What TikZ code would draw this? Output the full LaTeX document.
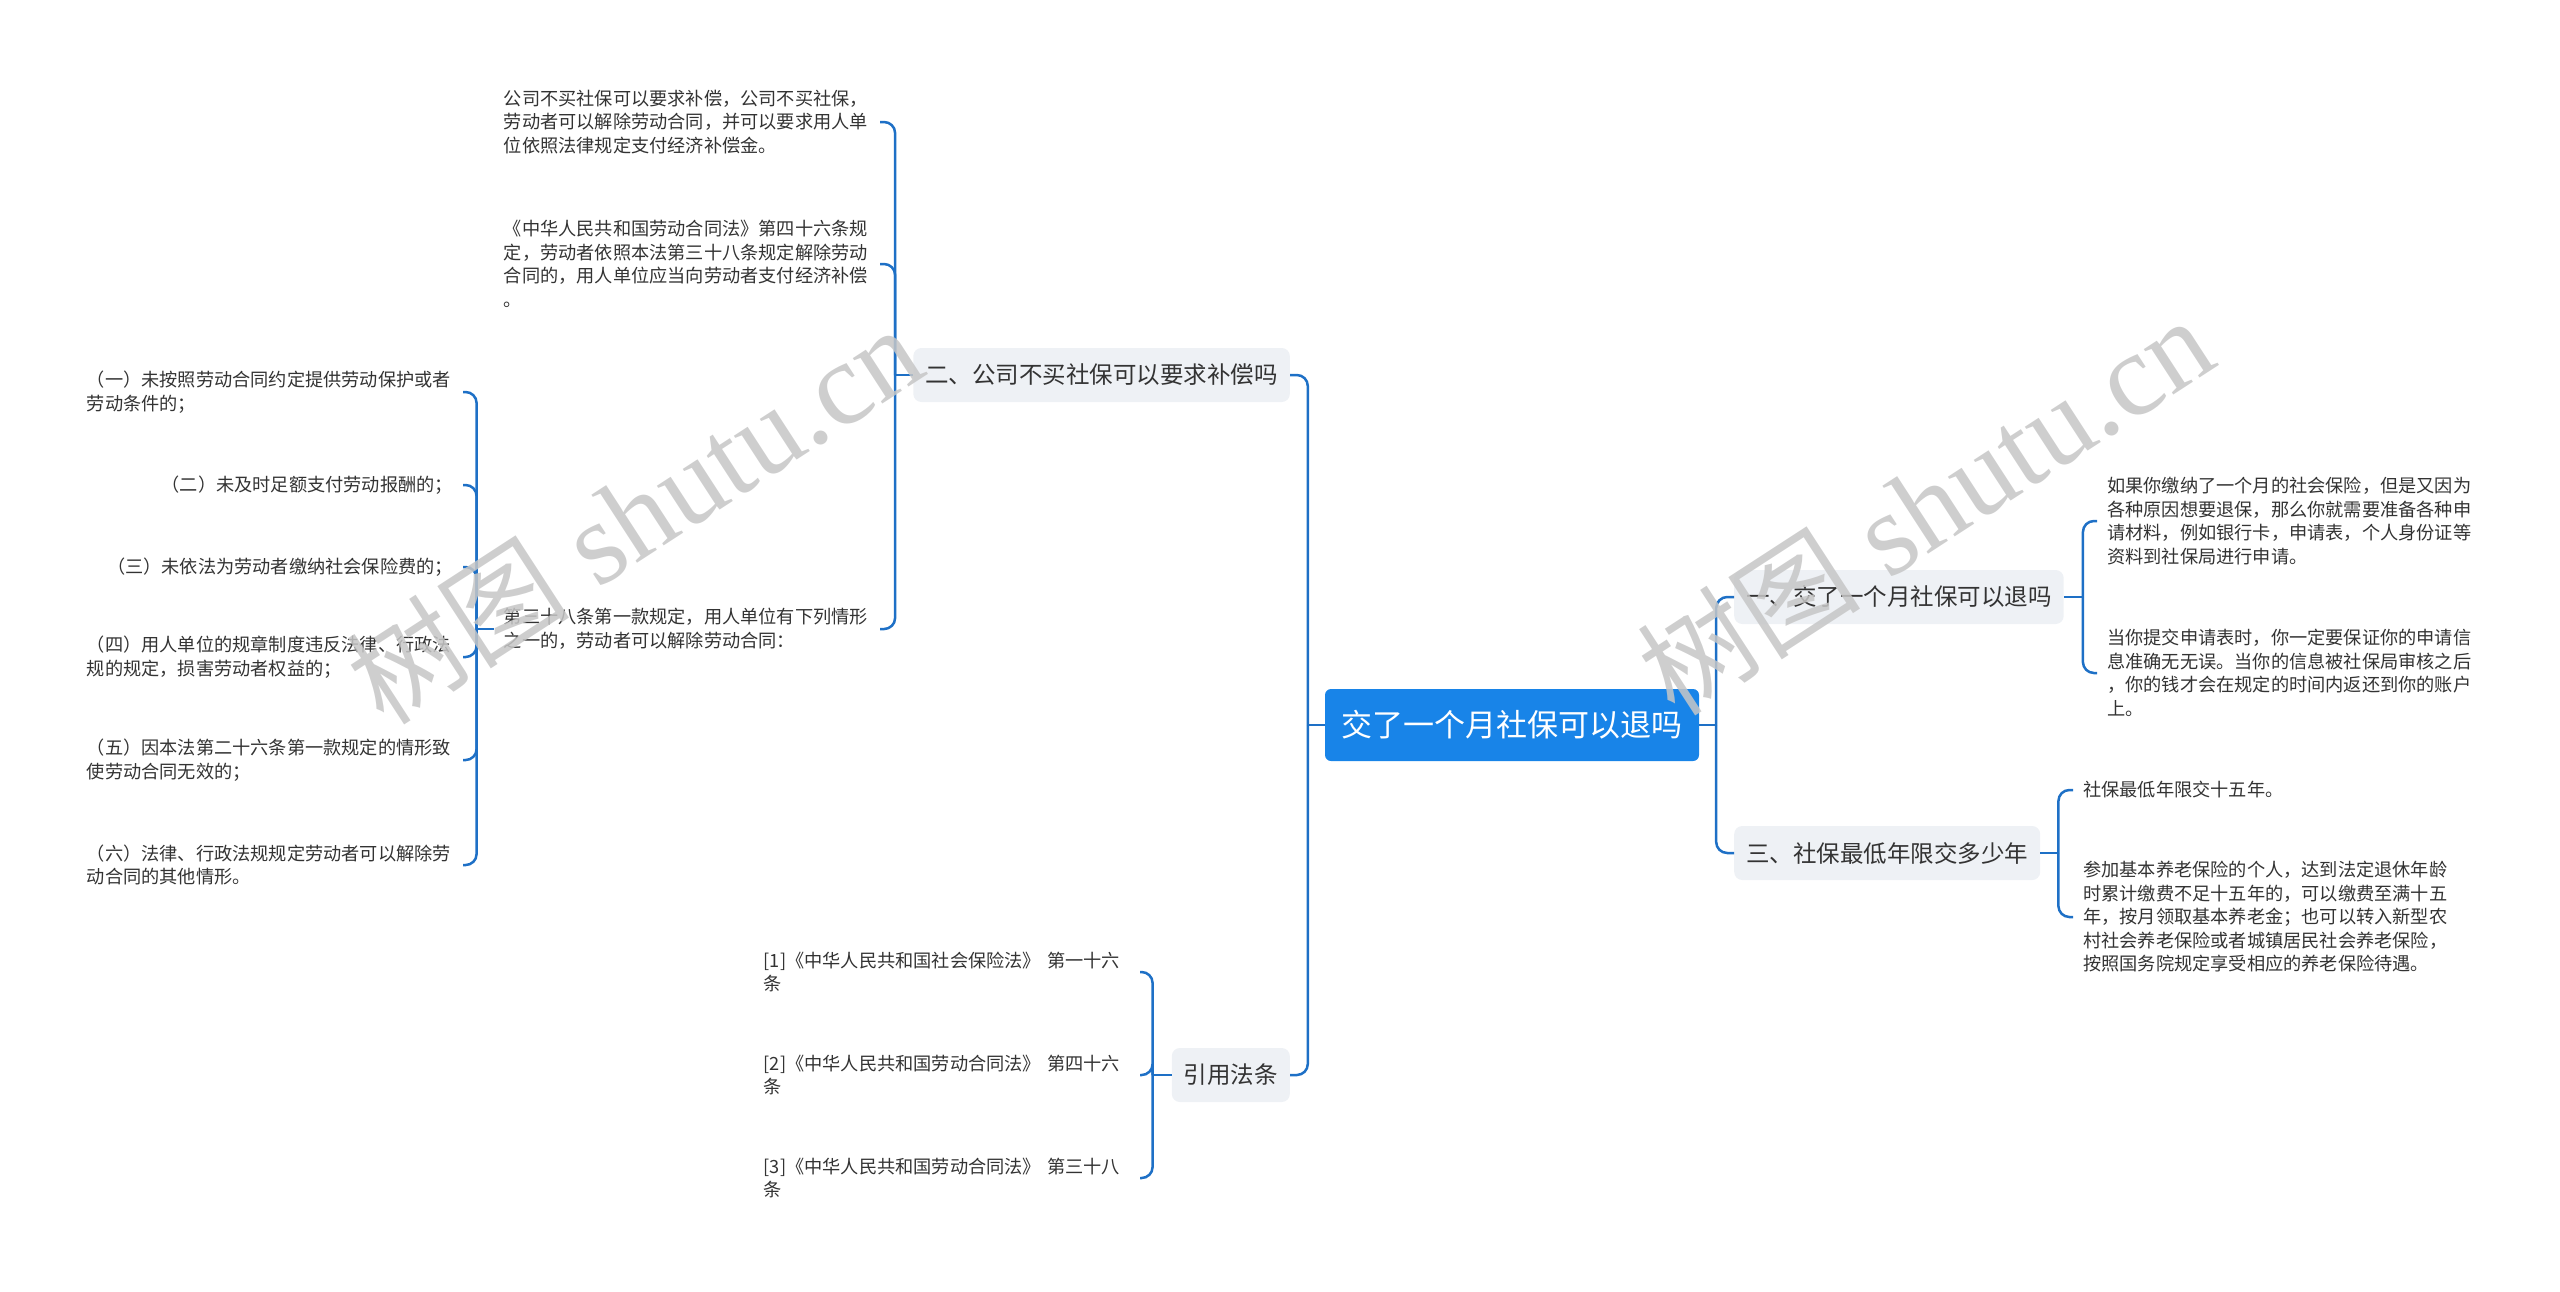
\documentclass[tikz,border=0pt]{standalone}
\usepackage{fontspec}
\setmainfont{Noto Sans CJK SC}
\newfontfamily\wmserif{Liberation Serif}
\newfontfamily\cjk{Noto Sans CJK SC}
\usetikzlibrary{calc}
\definecolor{lineblue}{RGB}{30,112,198}
\definecolor{rootblue}{RGB}{24,132,232}
\definecolor{boxgray}{RGB}{238,241,245}
\definecolor{txt}{RGB}{51,51,51}
\definecolor{wm}{RGB}{198,198,198}
\begin{document}
\begin{tikzpicture}[x=1pt,y=-1pt,
  conn/.style={draw=lineblue, line width=2.5pt, rounded corners=11pt},
  rootbox/.style={fill=rootblue, rounded corners=6pt, text=white, font=\fontsize{31}{36}\selectfont, inner xsep=16.5pt, inner ysep=0pt, minimum height=72pt},
  topic/.style={fill=boxgray, rounded corners=8pt, text=txt, font=\fontsize{23.5}{28}\selectfont, inner xsep=12pt, inner ysep=0pt, minimum height=54pt},
  leaf/.style={text=txt, font=\fontsize{18.2}{23.5}\selectfont, inner xsep=10pt, inner ysep=2pt, align=left},
  wide/.style={text width=366pt},
  wmark/.style={text=wm, text opacity=0.85, rotate=33, inner sep=0pt}
]
\useasboundingbox (0,0) rectangle (2560,1291);

% root and topics
\node[rootbox] (root) at (1512,725) {交了一个月社保可以退吗};
\node[topic, anchor=east] (n2) at (1290,375) {二、公司不买社保可以要求补偿吗};
\node[topic, anchor=east] (n4) at (1290,1075) {引用法条};
\node[topic, anchor=west] (n1) at (1734,597) {一、交了一个月社保可以退吗};
\node[topic, anchor=west] (n3) at (1734,853) {三、社保最低年限交多少年};

% children of n2
\node[leaf, wide, anchor=east] (c21) at (880,122) {公司不买社保可以要求补偿，公司不买社保，\\劳动者可以解除劳动合同，并可以要求用人单\\位依照法律规定支付经济补偿金。};
\node[leaf, wide, anchor=east] (c22) at (880,264) {《中华人民共和国劳动合同法》第四十六条规\\定，劳动者依照本法第三十八条规定解除劳动\\合同的，用人单位应当向劳动者支付经济补偿\\。};
\node[leaf, wide, anchor=east] (c23) at (880,629) {第三十八条第一款规定，用人单位有下列情形\\之一的，劳动者可以解除劳动合同：};

% children of c23
\node[leaf, wide, anchor=east] (d1) at (463,392) {（一）未按照劳动合同约定提供劳动保护或者\\劳动条件的；};
\node[leaf, anchor=east] (d2) at (463,485) {（二）未及时足额支付劳动报酬的；};
\node[leaf, anchor=east] (d3) at (463,567) {（三）未依法为劳动者缴纳社会保险费的；};
\node[leaf, wide, anchor=east] (d4) at (463,657) {（四）用人单位的规章制度违反法律、行政法\\规的规定，损害劳动者权益的；};
\node[leaf, wide, anchor=east] (d5) at (463,760) {（五）因本法第二十六条第一款规定的情形致\\使劳动合同无效的；};
\node[leaf, wide, anchor=east] (d6) at (463,865) {（六）法律、行政法规规定劳动者可以解除劳\\动合同的其他情形。};

% children of n4
\node[leaf, wide, anchor=east] (c41) at (1140,972) {[1]《中华人民共和国社会保险法》 第一十六\\条};
\node[leaf, wide, anchor=east] (c42) at (1140,1075) {[2]《中华人民共和国劳动合同法》 第四十六\\条};
\node[leaf, wide, anchor=east] (c43) at (1140,1178) {[3]《中华人民共和国劳动合同法》 第三十八\\条};

% children of n1
\node[leaf, wide, anchor=west] (r11) at (2097,521) {如果你缴纳了一个月的社会保险，但是又因为\\各种原因想要退保，那么你就需要准备各种申\\请材料，例如银行卡，申请表，个人身份证等\\资料到社保局进行申请。};
\node[leaf, wide, anchor=west] (r12) at (2097,673) {当你提交申请表时，你一定要保证你的申请信\\息准确无无误。当你的信息被社保局审核之后\\，你的钱才会在规定的时间内返还到你的账户\\上。};

% children of n3
\node[leaf, anchor=west] (r31) at (2073,790) {社保最低年限交十五年。};
\node[leaf, wide, anchor=west] (r32) at (2073,917) {参加基本养老保险的个人，达到法定退休年龄\\时累计缴费不足十五年的，可以缴费至满十五\\年，按月领取基本养老金；也可以转入新型农\\村社会养老保险或者城镇居民社会养老保险，\\按照国务院规定享受相应的养老保险待遇。};

% bus coordinates
\coordinate (bL) at ($(root.west)+(-17,0)$);
\coordinate (bR) at ($(root.east)+(17,0)$);
\coordinate (b2) at ($(n2.west)+(-18,0)$);
\coordinate (b23) at ($(c23.west)+(-17,0)$);
\coordinate (b4) at ($(n4.west)+(-19,0)$);
\coordinate (b1) at ($(n1.east)+(19,0)$);
\coordinate (b3) at ($(n3.east)+(18,0)$);

% connectors
\draw[conn] (root.west) -- (bL);
\draw[conn] (root.east) -- (bR);
\draw[conn] (bL) |- (n2.east);
\draw[conn] (bL) |- (n4.east);
\draw[conn] (bR) |- (n1.west);
\draw[conn] (bR) |- (n3.west);

\draw[conn] (n2.west) -- (b2);
\draw[conn] (b2) |- (c21.east);
\draw[conn] (b2) |- (c22.east);
\draw[conn] (b2) |- (c23.east);

\draw[conn] (c23.west) -- (b23);
\draw[conn] (b23) |- (d1.east);
\draw[conn] (b23) |- (d2.east);
\draw[conn] (b23) |- (d3.east);
\draw[conn] (b23) |- (d4.east);
\draw[conn] (b23) |- (d5.east);
\draw[conn] (b23) |- (d6.east);

\draw[conn] (n4.west) -- (b4);
\draw[conn] (b4) |- (c41.east);
\draw[conn] (b4) |- (c42.east);
\draw[conn] (b4) |- (c43.east);

\draw[conn] (n1.east) -- (b1);
\draw[conn] (b1) |- (r11.west);
\draw[conn] (b1) |- (r12.west);

\draw[conn] (n3.east) -- (b3);
\draw[conn] (b3) |- (r31.west);
\draw[conn] (b3) |- (r32.west);

% watermarks
\node[wmark] (wm1) at (634,515) {{\cjk\fontsize{112}{120}\selectfont 树图}{\wmserif\fontsize{118}{120}\selectfont\ shutu.cn}};
\node[wmark] (wm2) at (1925,506) {{\cjk\fontsize{112}{120}\selectfont 树图}{\wmserif\fontsize{118}{120}\selectfont\ shutu.cn}};
\end{tikzpicture}
\end{document}
